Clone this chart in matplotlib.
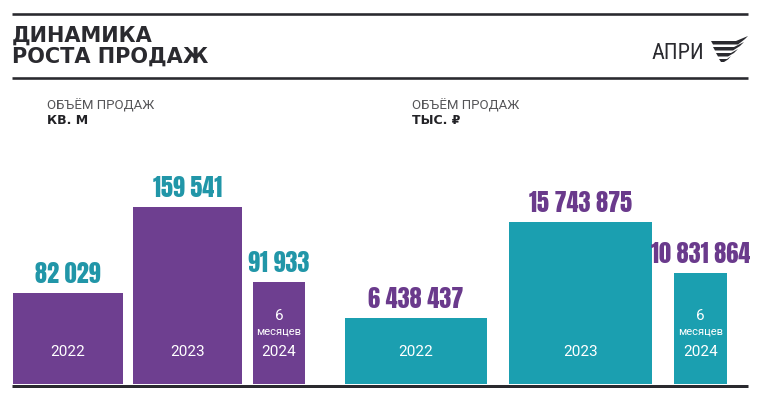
import matplotlib
matplotlib.use("Agg")
import matplotlib.pyplot as plt
from matplotlib.patches import Polygon
from matplotlib.transforms import blended_transform_factory

# ---------------- data ----------------
years = ["2022", "2023", "2024"]
area_values = [82029, 159541, 91933]            # кв. м
area_labels = ["82 029", "159 541", "91 933"]
money_values = [6438437, 15743875, 10831864]    # тыс. ₽
money_labels = ["6 438 437", "15 743 875", "10 831 864"]
title_lines = ["ДИНАМИКА", "РОСТА ПРОДАЖ"]
subtitle = "ОБЪЁМ ПРОДАЖ"
unit_left = "КВ. М"
unit_right = "ТЫС. ₽"
partial_note = ["6", "месяцев"]
logo_text = "АПРИ"

PURPLE = "#6e3f90"
TEAL = "#1b9fb0"
TEAL_TXT = "#2196a8"
PURPLE_TXT = "#6a3a8c"
DARK = "#2a2a2f"

W, H = 758, 398
fig = plt.figure(figsize=(W / 100, H / 100), dpi=100)
fig.patch.set_facecolor("white")

NUM = ["Anton", "Oswald", "DejaVu Sans"]
LOGO = ["Roboto Condensed", "Oswald", "DejaVu Sans"]
WIDE = ["DejaVu Sans", "Noto Sans"]
SANS = ["Roboto", "DejaVu Sans"]

# overlay axes in pixel coords for decoration
ov = fig.add_axes([0, 0, 1, 1])
ov.set_xlim(0, W)
ov.set_ylim(H, 0)
ov.axis("off")
ov.set_zorder(0)

px = 72 / 100  # points per pixel

# rules
for y in (14, 78):
    ov.plot([12, 748], [y, y], color=DARK, lw=2.6 * px, solid_capstyle="butt")

# title
ov.text(12, 42, title_lines[0], fontsize=15, fontweight="bold", color=DARK,
        family=WIDE, va="baseline", ha="left")
ov.text(12, 63, title_lines[1], fontsize=15, fontweight="bold", color=DARK,
        family=WIDE, va="baseline", ha="left")

# logo
ov.text(704, 59, logo_text, fontsize=16, color=DARK, family=LOGO,
        va="baseline", ha="right")
stripes = [
    [(711, 41), (736, 41), (748, 36), (745, 39), (738, 44.5), (713, 44.5)],
    [(713, 47), (734, 47), (744, 42), (740, 46), (733, 50.5), (715, 50.5)],
    [(716, 53), (731, 53), (738, 49), (734, 53), (728, 56.5), (718, 56.5)],
    [(719, 59), (727, 59), (731, 56), (728, 59.5), (724, 62), (721, 62)],
]
for s in stripes:
    ov.add_patch(Polygon(s, closed=True, facecolor=DARK, edgecolor="none"))

# subtitles
for x0, unit in ((47, unit_left), (412, unit_right)):
    ov.text(x0, 110, subtitle, fontsize=9.5, color="#555558", family=SANS,
            va="baseline", ha="left")
    ov.text(x0, 124, unit, fontsize=9, fontweight="bold", color="#222226",
            family=WIDE, va="baseline", ha="left")

# baseline
ov.plot([12, 748], [385.5, 385.5], color=DARK, lw=3 * px, solid_capstyle="butt",
        zorder=5)

# ---------------- bar panels ----------------
BASE_Y = 384   # pixel y of bar bottoms
TOP_Y = 140    # pixel y of axes top


def panel(x_left, x_right, lefts, widths, values, labels, color, txt_color,
          top_px_of_max):
    ax = fig.add_axes([x_left / W, 1 - BASE_Y / H, (x_right - x_left) / W,
                       (BASE_Y - TOP_Y) / H])
    ax.set_zorder(2)
    ax.patch.set_alpha(0)
    ax.axis("off")
    ax.set_xlim(0, x_right - x_left)
    vmax = max(values)
    ax.set_ylim(0, vmax * (BASE_Y - TOP_Y) / (BASE_Y - top_px_of_max))
    ax.bar(lefts, values, width=widths, align="edge", color=color,
           edgecolor="none")
    tr = blended_transform_factory(ax.transData, ax.transAxes)
    h = BASE_Y - TOP_Y
    for i, (l, w, v, lab) in enumerate(zip(lefts, widths, values, labels)):
        cx = l + w / 2
        ax.annotate(lab, (cx, v), xytext=(0, 5), textcoords="offset points",
                    ha="center", va="bottom", fontsize=17.5,
                    color=txt_color, family=NUM)
        ax.text(cx, (BASE_Y - 352) / h, years[i], transform=tr, ha="center",
                va="center", color="white", fontsize=11, family=SANS)
        if i == 2:
            ax.text(cx, (BASE_Y - 316) / h, partial_note[0], transform=tr,
                    ha="center", va="center", color="white", fontsize=11,
                    family=SANS)
            ax.text(cx, (BASE_Y - 332) / h, partial_note[1], transform=tr,
                    ha="center", va="center", color="white", fontsize=8,
                    family=SANS)
    return ax


panel(12, 340, [1, 121, 241], [110, 109, 52], area_values, area_labels,
      PURPLE, TEAL_TXT, 207)
panel(330, 748, [15, 179, 344], [142, 143, 53], money_values, money_labels,
      TEAL, PURPLE_TXT, 222)

fig.savefig("out.png", dpi=100, facecolor="white")
